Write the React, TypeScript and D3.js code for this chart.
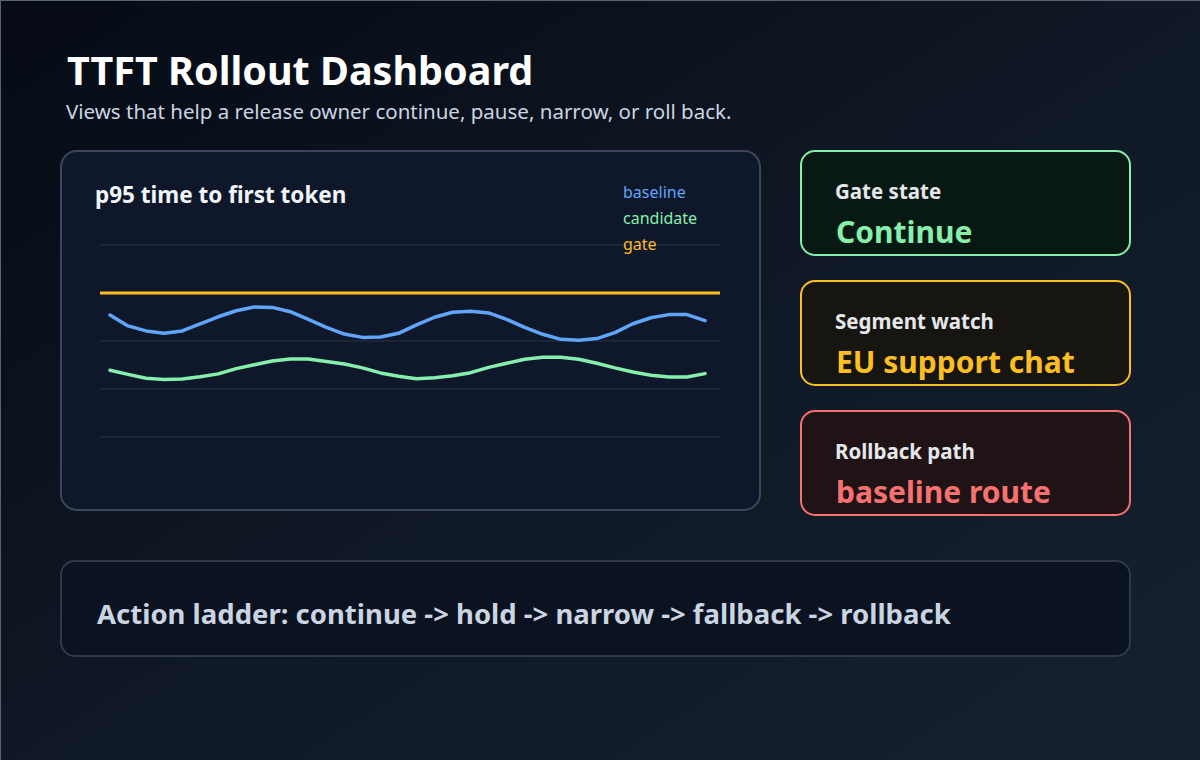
import React from "react";
import * as d3 from "d3";

const baseline = [708, 663, 642, 632, 642, 671, 701, 726, 742, 740, 722, 690, 657, 629, 615, 617, 632, 667, 699, 720, 724, 717, 690, 657, 628, 607, 603, 610, 635, 672, 697, 710, 710, 685];
const candidate = [478, 461, 445, 440, 442, 451, 463, 485, 501, 517, 525, 525, 515, 504, 488, 467, 453, 443, 447, 455, 468, 490, 507, 524, 532, 532, 524, 507, 488, 471, 457, 450, 450, 464];
const gateValue = 800;
const gridValues = [200, 400, 600, 800, 1000];
const legendItems = [
  { name: "baseline", color: "#60a5fa" },
  { name: "candidate", color: "#86efac" },
  { name: "gate", color: "#fbbf24" },
];
const statusCards = [
  { label: "Gate state", value: "Continue", stroke: "#86efac", fill: "#081812", color: "#86efac" },
  { label: "Segment watch", value: "EU support chat", stroke: "#fbbf24", fill: "#17150f", color: "#fbbf24" },
  { label: "Rollback path", value: "baseline route", stroke: "#f87171", fill: "#201315", color: "#f87171" },
];
const ladder = ["continue", "hold", "narrow", "fallback", "rollback"];

const FONT = "'Noto Sans', 'Open Sans', sans-serif";

export default function App() {
  const W = 1200, H = 760;
  const x = d3.scaleLinear().domain([0, baseline.length - 1]).range([110, 705]);
  const y = d3.scaleLinear().domain([0, 1000]).range([485, 245]);
  const line = d3.line<number>().x((_, i) => x(i)).y((d) => y(d)).curve(d3.curveLinear);
  const gridX0 = 100, gridX1 = 720;

  return (
    <svg width={W} height={H} style={{ position: "absolute", left: 0, top: 0, display: "block" }} fontFamily={FONT}>
      <defs>
        <linearGradient id="bg" x1="0" y1="0" x2="1" y2="1">
          <stop offset="0%" stopColor="#060b15" />
          <stop offset="55%" stopColor="#101926" />
          <stop offset="100%" stopColor="#16212f" />
        </linearGradient>
      </defs>
      <rect x={0} y={0} width={W} height={H} fill="url(#bg)" />
      <rect x={0.5} y={0.5} width={W + 4} height={H + 4} fill="none" stroke="#5b6270" strokeWidth={1} />

      <text x={67} y={85} fill="#ffffff" fontSize={39.5} fontWeight={700}>TTFT Rollout Dashboard</text>
      <text x={66} y={119} fill="#cbd5e1" fontSize={20.5}>Views that help a release owner continue, pause, narrow, or roll back.</text>

      {/* chart card */}
      <rect x={61} y={151} width={699} height={359} rx={16} fill="#0f172a" stroke="#3b4658" strokeWidth={2} />
      <text x={95} y={203} fill="#f1f5f9" fontSize={22.5} fontWeight={700}>p95 time to first token</text>
      {gridValues.map((v) => (
        <line key={v} x1={gridX0} x2={gridX1} y1={y(v)} y2={y(v)} stroke="#2b3545" strokeWidth={1} />
      ))}
      <line x1={gridX0} x2={gridX1} y1={y(gateValue)} y2={y(gateValue)} stroke="#fbbf24" strokeWidth={3} />
      <path d={line(baseline) || ""} fill="none" stroke="#60a5fa" strokeWidth={3.5} strokeLinejoin="round" strokeLinecap="round" />
      <path d={line(candidate) || ""} fill="none" stroke="#86efac" strokeWidth={3.5} strokeLinejoin="round" strokeLinecap="round" />
      {legendItems.map((it, i) => (
        <text key={it.name} x={623} y={198 + i * 26} fill={it.color} fontSize={16}>{it.name}</text>
      ))}

      {/* status cards */}
      {statusCards.map((c, i) => {
        const top = 151 + i * 130;
        return (
          <g key={c.label}>
            <rect x={801} y={top} width={329} height={104} rx={14} fill={c.fill} stroke={c.stroke} strokeWidth={2} />
            <text x={835} y={top + 48} fill="#e5e7eb" fontSize={20.5} fontWeight={700}>{c.label}</text>
            <text x={836} y={top + 92} fill={c.color} fontSize={30} fontWeight={700}>{c.value}</text>
          </g>
        );
      })}

      {/* action ladder */}
      <rect x={61} y={561} width={1069} height={95} rx={14} fill="#0b1220" stroke="#2e3a4c" strokeWidth={2} />
      <text x={97} y={624} fill="#cbd5e1" fontSize={27.5} fontWeight={700}>{"Action ladder: " + ladder.join(" -> ")}</text>
    </svg>
  );
}
